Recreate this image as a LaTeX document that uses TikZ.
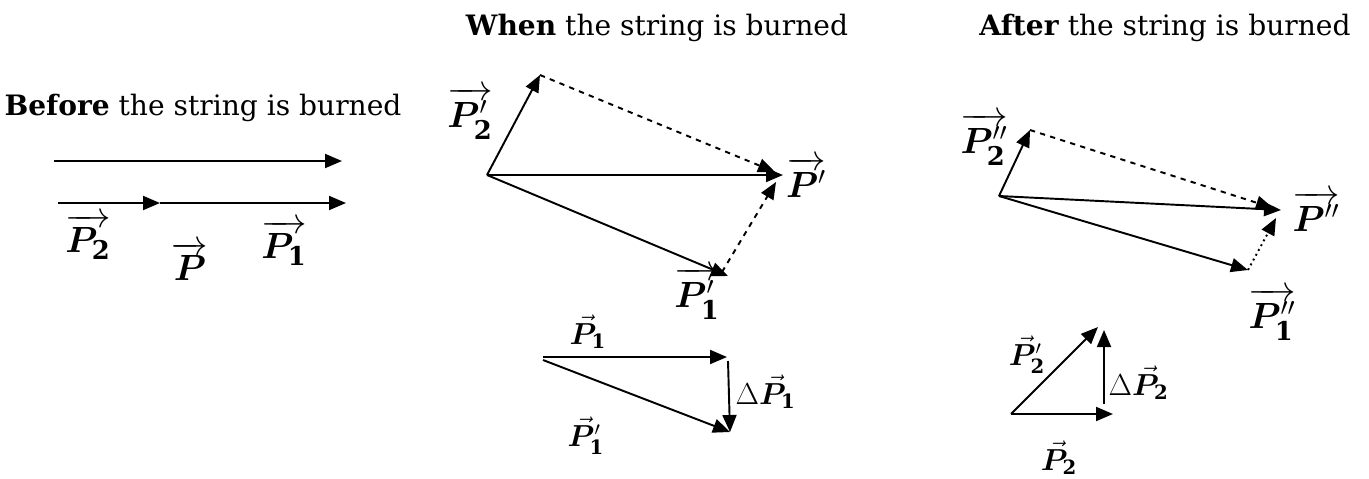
\documentclass[tikz,border=0pt]{standalone}
\usepackage{fontspec}
\setmainfont{DejaVu Serif}
\usepackage{amsmath}
\usepackage{bm}
\usetikzlibrary{positioning,arrows.meta}

\begin{document}
\begin{tikzpicture}[x=0.02cm, y=-0.02cm, >={Triangle[length=0.34cm,width=0.28cm]}, line width=1.1pt]
    \tikzstyle{title}=[font=\fontsize{16}{18}\selectfont]
    \tikzstyle{big}=[font=\fontsize{21}{23}\selectfont, inner sep=1pt]
    \tikzstyle{small}=[font=\fontsize{16}{18}\selectfont, inner sep=1pt]
    \useasboundingbox (0,0) rectangle (1369,478);

    % before
    \node[title] (before) at (203,108) {\textbf{Before} the string is burned};
    \coordinate (a0) at (54,161);
    \coordinate (a1) at (342,161);
    \coordinate (b0) at (58,203);
    \coordinate (b1) at (160,203);
    \coordinate (b2) at (346,203);
    \draw[->] (a0) -- (a1);
    \draw[->] (b0) -- (b1);
    \draw[->] (b1) -- (b2);
    \node[big] (lp2) at (88,237) {$\overrightarrow{\bm{P}_{\mathbf 2}}$};
    \node[big] (lp) at (190,261) {$\overrightarrow{\bm P}$};
    \node[big] (lp1) at (284,243) {$\overrightarrow{\bm{P}_{\mathbf 1}}$};

    % when
    \node[title] (when) at (657,28) {\textbf{When} the string is burned};
    \coordinate (o) at (487,175);
    \coordinate (q2) at (540,75);
    \coordinate (q) at (783,175);
    \coordinate (q1) at (728,276);
    \draw[->] (o) -- (q2);
    \draw[->] (o) -- (q);
    \draw[->] (o) -- (q1);
    \draw[->, dashed] (q2) -- (775,172);
    \draw[->, dashed] (722,272) -- (776,182);
    \node[big] (lq2) at (470,113) {$\overrightarrow{\bm{P}'_{\mathbf 2}}$};
    \node[big] (lq) at (806,177) {$\overrightarrow{\bm{P}'}$};
    \node[big] (lq1) at (697,293) {$\overrightarrow{\bm{P}'_{\mathbf 1}}$};

    % P1 change
    \coordinate (s0) at (543,357);
    \coordinate (s1) at (727,357);
    \coordinate (s2) at (730,432);
    \draw[->] (s0) -- (s1);
    \draw[->] (543,360) -- (s2);
    \draw[->] (728,361) -- (s2);
    \node[small] (ls1) at (588,332) {$\vec{\bm P}_{\mathbf 1}$};
    \node[small] (ls2) at (586,436) {$\vec{\bm P}'_{\mathbf 1}$};
    \node[small, anchor=west] (ld1) at (733,392) {$\Delta\vec{\bm P}_{\mathbf 1}$};

    % after
    \node[title] (after) at (1165,28) {\textbf{After} the string is burned};
    \coordinate (r) at (999,196);
    \coordinate (t2) at (1030,130);
    \coordinate (t) at (1281,210);
    \coordinate (t1) at (1248,270);
    \draw[->] (r) -- (t2);
    \draw[->] (r) -- (t);
    \draw[->] (r) -- (t1);
    \draw[->, dashed] (t2) -- (1273,208);
    \draw[->, dotted] (t1) -- (1276,218);
    \node[big] (lt2) at (984,139) {$\overrightarrow{\bm{P}''_{\mathbf 2}}$};
    \node[big] (lt) at (1316,211) {$\overrightarrow{\bm{P}''}$};
    \node[big] (lt1) at (1272,314) {$\overrightarrow{\bm{P}''_{\mathbf 1}}$};

    % P2 change
    \coordinate (u0) at (1011,414);
    \coordinate (u1) at (1113,414);
    \coordinate (u2) at (1098,327);
    \draw[->] (u0) -- (u1);
    \draw[->] (u0) -- (u2);
    \draw[->] (1104,404) -- (1104,330);
    \node[small] (lu2) at (1027,355) {$\vec{\bm P}'_{\mathbf 2}$};
    \node[small, anchor=west] (ld2) at (1106,383) {$\Delta\vec{\bm P}_{\mathbf 2}$};
    \node[small] (lu1) at (1059,458) {$\vec{\bm P}_{\mathbf 2}$};
\end{tikzpicture}
\end{document}
